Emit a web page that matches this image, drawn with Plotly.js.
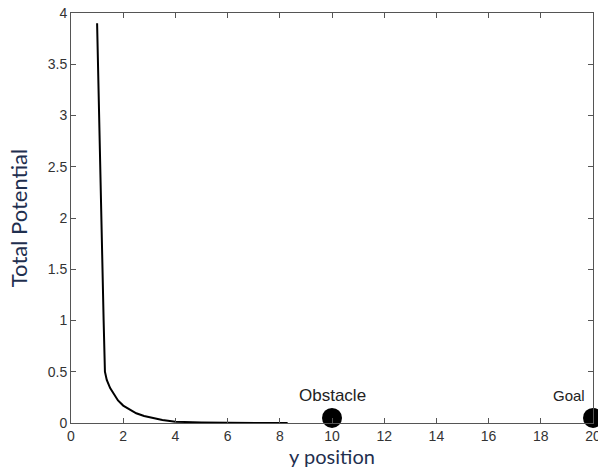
<!DOCTYPE html>
<html>
<head>
<meta charset="utf-8">
<script src="https://cdn.plot.ly/plotly-3.0.1.min.js"></script>
<style>html,body{margin:0;padding:0;background:#fff;}#chart{width:598px;height:476px;}</style>
</head>
<body>
<div id="chart"></div>
<script>
// Potential curve
var posX = [1.0, 1.02, 1.05, 1.08, 1.12, 1.16, 1.2, 1.25, 1.3, 1.37, 1.5, 1.62, 1.8, 2.0, 2.25, 2.5, 2.8, 3.15, 3.5, 4.0, 4.5, 5.0, 6.0, 7.0, 8.3];
var potential = [3.9, 3.67, 3.2, 2.7, 2.3, 1.9, 1.5, 1.0, 0.5, 0.42, 0.34, 0.29, 0.22, 0.17, 0.13, 0.095, 0.068, 0.046, 0.03, 0.013, 0.008, 0.005, 0.002, 0.001, 0.0];
// Obstacle and goal markers
var markerX = [10, 20];
var markerY = [0.05, 0.05];
var labelText = ["Obstacle", "Goal"];
var labelX = [10, 19.07];
var labelY = [0.27, 0.27];
var labelSize = [17, 15];

var traces = [
  {x: posX, y: potential, mode: 'lines', type: 'scatter',
   line: {color: '#000000', width: 2}, hoverinfo: 'skip'},
  {x: markerX, y: markerY, mode: 'markers', type: 'scatter', cliponaxis: false,
   marker: {color: '#000000', size: 20}, hoverinfo: 'skip'}
];

var annotations = labelText.map(function(t, i){
  return {x: labelX[i], y: labelY[i], text: t, showarrow: false,
    xref: 'x', yref: 'y', font: {family: 'Liberation Sans, Arial, sans-serif', size: labelSize[i], color: '#222222'}};
});

var axisCommon = {
  showgrid: false, zeroline: false, showline: true, linecolor: '#555555', linewidth: 1,
  mirror: 'ticks', ticks: 'inside', ticklen: 5, tickcolor: '#555555',
  ticklabeloverflow: 'allow',
  tickfont: {family: 'Liberation Sans, Arial, sans-serif', size: 14, color: '#333333'}
};

var layout = {
  width: 598, height: 476,
  margin: {l: 71, r: 5, t: 13, b: 53},
  paper_bgcolor: '#ffffff', plot_bgcolor: '#ffffff',
  showlegend: false,
  xaxis: Object.assign({}, axisCommon, {range: [0, 20], dtick: 2, tick0: 0,
    title: {text: 'y position', standoff: 7, font: {family: 'Lato, Open Sans, sans-serif', size: 20, color: '#1f2f4f'}}}),
  yaxis: Object.assign({}, axisCommon, {range: [0, 4], dtick: 0.5, tick0: 0,
    title: {text: 'Total Potential', standoff: 14, font: {family: 'Lato, Open Sans, sans-serif', size: 22, color: '#1f2f4f'}}}),
  annotations: annotations
};

Plotly.newPlot('chart', traces, layout, {displayModeBar: false, staticPlot: true});
</script>
</body>
</html>
